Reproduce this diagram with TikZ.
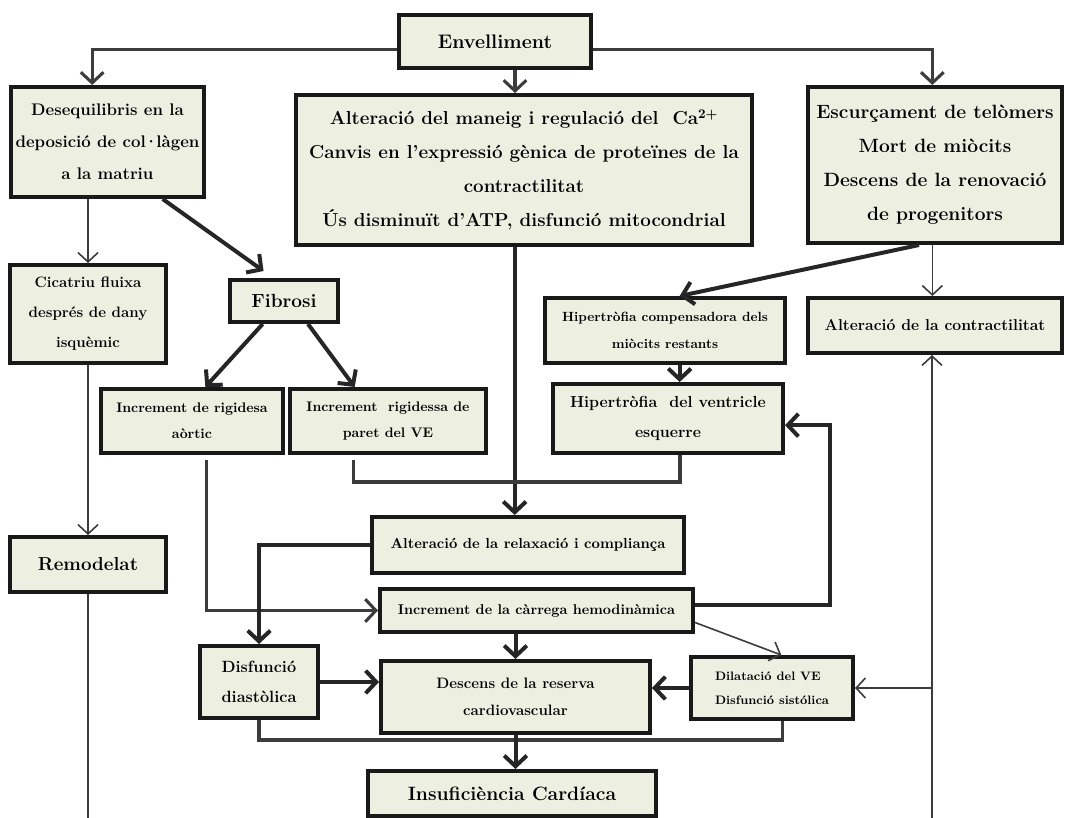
\documentclass[tikz,border=0pt]{standalone}
\usepackage{fontspec}
\usetikzlibrary{calc,arrows.meta}
\definecolor{boxfill}{RGB}{237,239,225}
\definecolor{linegrey}{RGB}{60,60,60}
\tikzset{cbox/.style={rectangle, draw=black!90, fill=boxfill, line width=3pt,
  inner sep=0pt, align=center}}
\tikzset{wd/.style={minimum width=#1*0.75pt}, ht/.style={minimum height=#1*0.75pt}}
\tikzset{fsz/.style 2 args={font=\fontsize{#1}{#2}\selectfont\bfseries}}
\tikzset{heavy/.style={draw=black!85, line width=3pt},
  midline/.style={draw=linegrey, line width=2.3pt},
  thinline/.style={draw=linegrey, line width=1.2pt}}
\tikzset{bigtip/.style={-{Straight Barb[length=8pt,width=17pt]}},
  smalltip/.style={-{Straight Barb[length=7pt,width=15pt]}}}

\begin{document}
\begin{tikzpicture}[x=0.75pt, y=-0.75pt]
  \useasboundingbox (0,0) rectangle (1065,818);
  % top row
  \node[cbox, wd=192, ht=53, fsz={14.7}{20}] (env) at (495,41.5) {Envelliment};
  \node[cbox, wd=193, ht=110, fsz={12.6}{24}] (deseq) at (107.5,142)
    {Desequilibris en la\\deposició de col\kern-1.5pt·\kern-1.5pt làgen\\a la matriu};
  \node[cbox, wd=456, ht=150, fsz={14.1}{25.5}] (calc) at (524,170)
    {Alteració del maneig i regulació del~ Ca\textsuperscript{2+}\\Canvis en l’expressió gènica de proteïnes de la\\contractilitat\\Ús disminuït d’ATP, disfunció mitocondrial};
  \node[cbox, wd=254, ht=156, fsz={14.4}{25.5}] (telom) at (935,165)
    {Escurçament de telòmers\\Mort de miòcits\\Descens de la renovació\\de progenitors};
  % middle
  \node[cbox, wd=156, ht=98, fsz={11.3}{22.5}] (cicat) at (88,314)
    {Cicatriu fluixa\\després de dany\\isquèmic};
  \node[cbox, wd=108, ht=42, fsz={14.3}{18}] (fibro) at (284,301) {Fibrosi};
  \node[cbox, wd=182, ht=64, fsz={10.4}{19.5}] (rigao) at (192,421)
    {Increment de rigidesa\\aòrtic};
  \node[cbox, wd=196, ht=64, fsz={10.4}{19.5}] (rigve) at (388,421)
    {Increment~ rigidessa de\\paret del VE};
  \node[cbox, wd=240, ht=65, fsz={10}{20}] (hipco) at (665,330.5)
    {Hipertròfia compensadora dels\\miòcits restants};
  \node[cbox, wd=254, ht=55, fsz={11.8}{16}] (contr) at (935,325.5)
    {Alteració de la contractilitat};
  \node[cbox, wd=230, ht=69, fsz={12}{22.5}] (hipve) at (668,418.5)
    {Hipertròfia~ del ventricle\\esquerre};
  % lower part
  \node[cbox, wd=312, ht=56, fsz={10.9}{16}] (relax) at (528,545)
    {Alteració de la relaxació i compliança};
  \node[cbox, wd=156, ht=55, fsz={14.1}{18}] (remod) at (88,564.5) {Remodelat};
  \node[cbox, wd=313, ht=43, fsz={10.6}{16}] (carre) at (536.5,610.5)
    {Increment de la càrrega hemodinàmica};
  \node[cbox, wd=118, ht=72, fsz={12.2}{22.5}, align=left] (diast) at (259,682)
    {Disfunció\\diastòlica};
  \node[cbox, wd=269, ht=72, fsz={11.3}{20}] (desce) at (515.5,697)
    {Descens de la reserva\\cardiovascular};
  \node[cbox, wd=162, ht=62, fsz={9.2}{18}, align=left] (dilat) at (772,688)
    {Dilatació del VE\\Disfunció sistólica};
  \node[cbox, wd=288, ht=45, fsz={14.5}{20}] (insuf) at (512,793.5)
    {Insuficiència Cardíaca};

  \coordinate (rbot) at (88,818);
  \coordinate (cbot) at (932,818);
  \coordinate (jn) at (515,482);
  \coordinate (jb) at (515,740);

  % from Envelliment
  \draw[midline,bigtip] ([yshift=-6pt]env.west) -| ([xshift=-11.5pt]deseq.north);
  \draw[midline,bigtip] ([xshift=15pt]env.south) -- ([xshift=15pt]env.south |- calc.north);
  \draw[midline,bigtip] ([yshift=-6pt]env.east) -| ([xshift=-2pt]telom.north);
  % left column
  \draw[thinline,smalltip] (deseq.south -| cicat.north) -- (cicat.north);
  \draw[thinline,smalltip] (cicat.south) -- (remod.north);
  \draw[thinline] (remod.south) -- (rbot);
  \draw[heavy,bigtip,shorten >=9pt] ($(deseq.south west)!0.78!(deseq.south east)$) -- ([xshift=-8pt]fibro.north);
  \draw[heavy,bigtip] ([xshift=-16pt]fibro.south) -- ([xshift=10pt]rigao.north);
  \draw[heavy,bigtip] ([xshift=18pt]fibro.south) -- ([xshift=-25pt]rigve.north);
  % central column
  \draw[heavy,bigtip] ([xshift=-7pt]calc.south) -- ([xshift=-7pt]calc.south |- relax.north);
  \draw[midline,shorten <=4pt] ([xshift=-26pt]rigve.south) |- (jn);
  \draw[midline] ([xshift=9pt]hipve.south) |- (jn);
  % right column
  \draw[thinline,smalltip] ([xshift=-2pt]telom.south) -- ([xshift=-2pt]contr.north);
  \draw[heavy,bigtip] ([xshift=-12pt]telom.south) -- ([xshift=11pt]hipco.north);
  \draw[heavy,bigtip] ([xshift=11pt]hipco.south) -- ([xshift=11pt]hipco.south |- hipve.north);
  \draw[heavy,bigtip] ([yshift=4pt]carre.east) -| ([xshift=34pt,yshift=-5pt]hipve.east) -- ([yshift=-5pt]hipve.east);
  \draw[midline,bigtip,shorten <=4pt] ([xshift=11pt]rigao.south) |- (carre.west);
  \draw[heavy,bigtip] (relax.west) -| (diast.north);
  \draw[heavy,bigtip] (desce.north |- carre.south) -- (desce.north);
  \draw[heavy,bigtip] (diast.east) -- (diast.east -| desce.west);
  \draw[heavy,bigtip] (dilat.west) -- (dilat.west -| desce.east);
  \draw[thinline,smalltip] ([yshift=-9pt]carre.east) -- ([xshift=7pt]dilat.north);
  \draw[thinline,smalltip] (cbot) -- (cbot |- contr.south);
  \draw[thinline,smalltip] (cbot |- dilat.east) -- (dilat.east);
  % towards heart failure
  \draw[midline] (diast.south) |- (jb);
  \draw[midline] ([xshift=8pt]dilat.south) |- (jb);
  \draw[heavy,bigtip] (desce.south) -- (desce.south |- insuf.north);
\end{tikzpicture}
\end{document}
